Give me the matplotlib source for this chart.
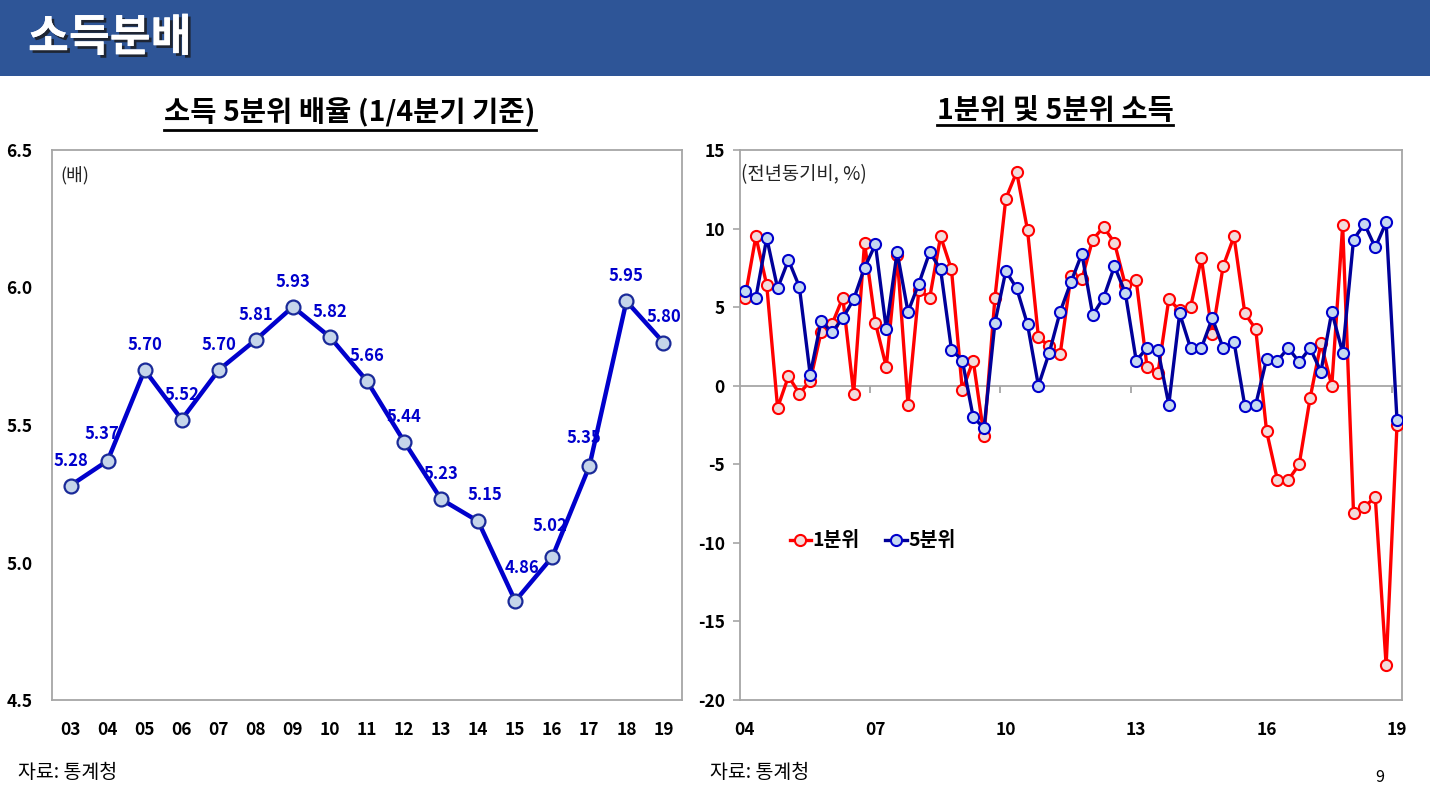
import matplotlib
matplotlib.use("Agg")
import matplotlib.pyplot as plt
from matplotlib.patches import Rectangle
from matplotlib.lines import Line2D
import matplotlib.patheffects as pe

plt.rcParams['font.family'] = ['Noto Sans CJK KR', 'DejaVu Sans']

# ---------------- data ----------------
years_left = ["03", "04", "05", "06", "07", "08", "09", "10", "11", "12",
              "13", "14", "15", "16", "17", "18", "19"]
ratio = [5.28, 5.37, 5.70, 5.52, 5.70, 5.81, 5.93, 5.82, 5.66, 5.44,
         5.23, 5.15, 4.86, 5.02, 5.35, 5.95, 5.80]

# quarterly, 2004 Q1 .. 2019 Q1 (YoY %)
q1_income = [5.6, 9.5, 6.4, -1.4, 0.6, -0.5, 0.3, 3.4, 3.9, 5.6,
             -0.5, 9.1, 4.0, 1.2, 8.3, -1.2, 6.1, 5.6, 9.5, 7.4,
             -0.3, 1.6, -3.2, 5.6, 11.9, 13.6, 9.9, 3.1, 2.5, 2.0,
             7.0, 6.8, 9.3, 10.1, 9.1, 6.4, 6.7, 1.2, 0.8, 5.5,
             4.8, 5.0, 8.1, 3.3, 7.6, 9.5, 4.6, 3.6, -2.9, -6.0,
             -6.0, -5.0, -0.8, 2.7, 0.0, 10.2, -8.1, -7.7, -7.1, -17.8,
             -2.5]
q5_income = [6.0, 5.6, 9.4, 6.2, 8.0, 6.3, 0.7, 4.1, 3.4, 4.3,
             5.5, 7.5, 9.0, 3.6, 8.5, 4.7, 6.5, 8.5, 7.4, 2.3,
             1.6, -2.0, -2.7, 4.0, 7.3, 6.2, 3.9, 0.0, 2.1, 4.7,
             6.6, 8.4, 4.5, 5.6, 7.6, 5.9, 1.6, 2.4, 2.3, -1.2,
             4.6, 2.4, 2.4, 4.3, 2.4, 2.8, -1.3, -1.2, 1.7, 1.6,
             2.4, 1.5, 2.4, 0.9, 4.7, 2.1, 9.3, 10.3, 8.8, 10.4,
             -2.2]
right_tick_labels = ["04", "07", "10", "13", "16", "19"]
left_yticks = [4.5, 5.0, 5.5, 6.0, 6.5]
right_yticks = [-20, -15, -10, -5, 0, 5, 10, 15]

# ---------------- figure ----------------
W, H = 1430, 802
fig = plt.figure(figsize=(W / 100, H / 100), dpi=100)

def fx(px):
    return px / W

def fy(py):
    return 1 - py / H

# header band
fig.patches.append(Rectangle((0, fy(76)), 1, 76 / H, transform=fig.transFigure,
                             facecolor="#2E5597", edgecolor="none", zorder=0))
fig.text(fx(28), fy(38), "소득분배", color="white", fontsize=32, fontweight="heavy",
         va="center", ha="left",
         path_effects=[pe.withSimplePatchShadow(offset=(2, -2), shadow_rgbFace="#1a1a1a", alpha=0.8),
                       pe.Normal()])

spine_col = "#A6A6A6"

# ---------------- left chart ----------------
ax1 = fig.add_axes([fx(52), fy(700), fx(682) - fx(52), (700 - 150) / H])
x1 = list(range(len(years_left)))
ax1.plot(x1, ratio, color="#0000CC", lw=3.2, marker="o", markersize=10,
         markerfacecolor="#C5D5EA", markeredgecolor="#1A2A99", markeredgewidth=1.6,
         zorder=3, clip_on=False)
ax1.set_xlim(-0.5, len(years_left) - 0.5)
ax1.set_ylim(4.5, 6.5)
ax1.set_xticks(x1)
ax1.set_xticklabels(years_left)
ax1.set_yticks(left_yticks)
ax1.set_yticklabels([f"{v:.1f}" for v in left_yticks])
ax1.tick_params(axis="both", length=0, labelsize=12.5, colors="black")
ax1.tick_params(axis="y", pad=14)
ax1.tick_params(axis="x", pad=15)
for lab in ax1.get_xticklabels() + ax1.get_yticklabels():
    lab.set_fontweight("bold")
for s in ax1.spines.values():
    s.set_color(spine_col)
    s.set_linewidth(1.3)

label_offsets = {1: (-4, 19), 11: (5, 19), 12: (5, 24), 13: (-2, 22), 14: (-4, 20)}
for i, v in enumerate(ratio):
    dx, dy = label_offsets.get(i, (0, 18))
    ax1.annotate(f"{v:.2f}", (i, v), xytext=(dx, dy), textcoords="offset points",
                 ha="center", va="center", color="#0000CC", fontsize=12,
                 fontweight="bold", zorder=4)
ax1.text(0.013, 0.955, "(배)", transform=ax1.transAxes, fontsize=13, va="center",
         ha="left", color="#222222")

# ---------------- right chart ----------------
ax2 = fig.add_axes([fx(740), fy(700), fx(1402) - fx(740), (700 - 150) / H])
x2 = list(range(len(q1_income)))
ax2.plot(x2, q1_income, color="#FF0000", lw=2.4, marker="o", markersize=8,
         markerfacecolor="#F2DCDB", markeredgecolor="#FF0000", markeredgewidth=1.5,
         zorder=3, label="1분위")
ax2.plot(x2, q5_income, color="#000099", lw=2.4, marker="o", markersize=8,
         markerfacecolor="#C6D9F1", markeredgecolor="#0000CC", markeredgewidth=1.5,
         zorder=4, label="5분위")
ax2.set_xlim(-0.46, len(q1_income) - 1 + 0.46)
ax2.set_ylim(-20, 15)
ax2.axhline(0, color=spine_col, lw=1.3, zorder=1)
# small category tick marks on the zero line
ax2.vlines([11.5, 23.5, 35.5, 47.5, 59.5], -0.45, 0, color=spine_col, lw=1.3, zorder=1)
ax2.set_xticks(list(range(0, len(q1_income), 12)))
ax2.set_xticklabels(right_tick_labels)
ax2.set_yticks(right_yticks)
ax2.set_yticklabels([str(v) for v in right_yticks])
ax2.tick_params(axis="x", length=0, pad=15, labelsize=12.5)
ax2.tick_params(axis="y", length=5, width=1.2, color=spine_col, pad=6, labelsize=12.5,
                direction="out")
for lab in ax2.get_xticklabels() + ax2.get_yticklabels():
    lab.set_fontweight("bold")
for s in ax2.spines.values():
    s.set_color(spine_col)
    s.set_linewidth(1.3)
ax2.text(0.002, 0.955, "(전년동기비, %)", transform=ax2.transAxes, fontsize=13.5,
         va="center", ha="left", color="#222222")
leg = ax2.legend(loc="center left", bbox_to_anchor=((772 - 740) / 662, (700 - 541) / 550),
                 frameon=False, ncol=2, handlelength=1.1, handletextpad=0.1,
                 columnspacing=1.3, prop={"size": 14, "weight": "bold"})

# ---------------- subtitles ----------------
t1 = fig.text(fx(350), fy(113), "소득 5분위 배율 (1/4분기 기준)", fontsize=20.5,
              fontweight="bold", ha="center", va="center")
t2 = fig.text(fx(1055), fy(111), "1분위 및 5분위 소득", fontsize=20.5,
              fontweight="bold", ha="center", va="center")
fig.canvas.draw()
rend = fig.canvas.get_renderer()
for t, yline in ((t1, 130), (t2, 125)):
    bb = t.get_window_extent(renderer=rend)
    fig.add_artist(Line2D([bb.x0 / W, bb.x1 / W], [fy(yline), fy(yline)],
                          transform=fig.transFigure, color="black", lw=2))

# ---------------- footer ----------------
fig.text(fx(18), fy(773), "자료: 통계청", fontsize=14, ha="left", va="center")
fig.text(fx(710), fy(773), "자료: 통계청", fontsize=14, ha="left", va="center")
fig.text(fx(1380), fy(777), "9", fontsize=11.5, ha="center", va="center")

fig.savefig("out.png", dpi=100)
